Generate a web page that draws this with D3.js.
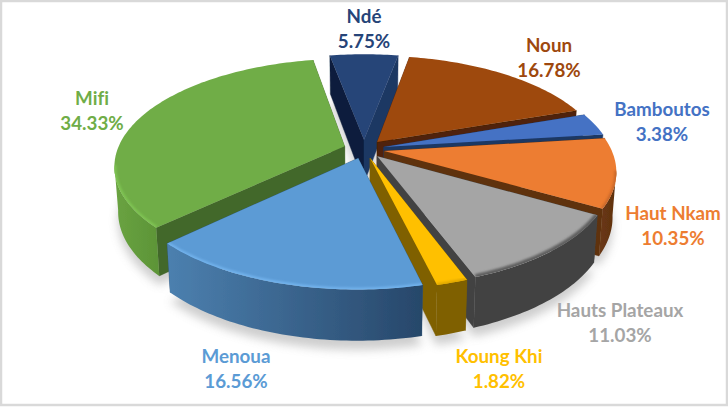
<!DOCTYPE html>
<html><head><meta charset="utf-8">
<style>html,body{margin:0;padding:0;background:#fff}svg{display:block}text{font-variant-ligatures:none}</style>
<script src="https://cdn.jsdelivr.net/npm/d3@7/dist/d3.min.js"></script></head>
<body><svg id="c" width="728" height="408"></svg>
<script>
const regions = ["Noun","Bamboutos","Haut Nkam","Hauts Plateaux","Koung Khi","Menoua","Mifi","Ndé"];
const shares = [16.78,3.38,10.35,11.03,1.82,16.56,34.33,5.75];
const topColors = ["#9e480e","#4472c4","#ed7d31","#a5a5a5","#ffc000","#5b9bd5","#70ad47","#264478"];
const labelColors = ["#9e480e","#4472c4","#ed7d31","#a5a5a5","#ffc000","#5b9bd5","#70ad47","#264478"];
const startWall = ["#4f2407","#1f3864","#5f3110","#434343","#7f6000","#2f5578","#43682b","#0e1f3d"];
const endWall = ["#4f2407","#1f3864","#5f3110","#434343","#7f6000","#2f5578","#43682b","#1f3864"];
const wallLeft = ["#5f3110","#1f3864","#6a3813","#434343","#7f6000","#4c80af","#6aa341","#1f3864"];
const wallRight = ["#4f2407","#1f3864","#5f3110","#434343","#7f6000","#27476a","#5c9437","#1f3864"];
const rimColors = ["#9e480e","#4472c4","#c9682a","#5f5f5f","#e0a800","#72b2ec","#7fc452","#264478"];
// Label layout: centre x, first baseline y
const labelX = [549,662,673,620,499,236,92,364];
const labelY = [52,116,220,317,363,363,105,23];
const drawOrder = [7,0,6,1,2,3,4,5];

const W=728,H=408,cx=364,cy=149,R0=227,S0=104,K=0.18,Kh=0.13,H0=44,EXP=0.09,ROT=10.35*Math.PI/180;
const svg=d3.select("#c");
const defs=svg.append("defs");
defs.append("filter").attr("id","sh").attr("x","-20%").attr("y","-20%").attr("width","140%").attr("height","140%")
  .append("feGaussianBlur").attr("stdDeviation",5);
defs.append("filter").attr("id","rim").attr("x","-20%").attr("y","-20%").attr("width","140%").attr("height","140%")
  .append("feGaussianBlur").attr("stdDeviation",0.9);
defs.append("filter").attr("id","soft").attr("x","-5%").attr("y","-5%").attr("width","110%").attr("height","110%")
  .append("feGaussianBlur").attr("stdDeviation",0.45);

const arcs=d3.pie().sort(null).startAngle(ROT).endAngle(ROT+2*Math.PI)(shares);
const xScale=d3.scaleLinear().domain([-1,1]).range([cx-R0,cx+R0]);
const yScale=d3.scaleLinear().domain([-1,1]).range([cy+S0,cy-S0]);
function proj(u,v,drop){
  const d=1+K*v;
  let x=xScale(u/d), y=yScale(v/d);
  if(drop){ y+=H0/(1+Kh*v); x=cx+(x-cx)*0.985; }
  return [x,y];
}
function slicePts(a){
  const mid=(a.startAngle+a.endAngle)/2, ox=EXP*Math.sin(mid), oy=EXP*Math.cos(mid);
  const P=(t,r)=>[ox+r*Math.sin(t),oy+r*Math.cos(t)];
  return {P,mid};
}
const line=d3.line();
function arcPts(P,t0,t1,drop){
  const n=Math.max(2,Math.ceil((t1-t0)/0.02)), pts=[];
  d3.range(n+1).forEach(i=>{const t=t0+(t1-t0)*i/n,p=P(t,1);pts.push(proj(p[0],p[1],drop));});
  return pts;
}
// soft shadow under the whole pie
const shadowG=svg.append("g").attr("filter","url(#sh)").attr("opacity",0.42).attr("transform","translate(0,9)");
arcs.forEach((a,i)=>{
  const {P}=slicePts(a);const c=P(0,0);
  shadowG.append("path").attr("fill","#8a8a8a")
   .attr("d",line([proj(c[0],c[1],true),...arcPts(P,a.startAngle,a.endAngle,true)])+"Z");
});
svg.append("rect").attr("x",1).attr("y",1).attr("width",W-2).attr("height",H-4).attr("fill","none").attr("stroke","#d9d9d9").attr("stroke-width",2.5);

drawOrder.forEach(i=>{
  const a=arcs[i],{P}=slicePts(a),g=svg.append("g").attr("filter","url(#soft)");
  const c=P(0,0),ct=proj(c[0],c[1],false),cb=proj(c[0],c[1],true);
  const wall=(t,col)=>{const p=P(t,1);
    g.append("path").attr("fill",col).attr("stroke",col).attr("stroke-width",.4)
     .attr("d",line([ct,proj(p[0],p[1],false),proj(p[0],p[1],true),cb])+"Z");};
  wall(a.startAngle,startWall[i]); wall(a.endAngle,endWall[i]);
  // outer wall, only where it faces the viewer
  const lo=Math.max(a.startAngle,Math.acos(-K)), hi=Math.min(a.endAngle,2*Math.PI-Math.acos(-K));
  if(hi>lo){
    const gid="w"+i, gr=defs.append("linearGradient").attr("id",gid);
    gr.append("stop").attr("offset",0).attr("stop-color",wallLeft[i]);
    gr.append("stop").attr("offset",1).attr("stop-color",wallRight[i]);
    const tp=arcPts(P,lo,hi,false),bp=arcPts(P,lo,hi,true).reverse();
    g.append("path").attr("fill",`url(#${gid})`).attr("d",line([...tp,...bp])+"Z");
  }
  // top face
  g.append("path").attr("fill",topColors[i])
    .attr("d",line([ct,...arcPts(P,a.startAngle,a.endAngle,false)])+"Z");
  if(hi>lo){
    const clip="cp"+i;
    defs.append("clipPath").attr("id",clip).append("path")
      .attr("d",line([ct,...arcPts(P,a.startAngle,a.endAngle,false)])+"Z");
    svg.append("g").attr("clip-path",`url(#${clip})`).append("path").attr("fill","none")
      .attr("stroke",rimColors[i]).attr("stroke-width",i===3?6:4).attr("filter","url(#rim)")
      .attr("d",line(arcPts(P,lo,hi,false)));
  }
});

const tg=svg.append("g").attr("font-family","Lato, 'Open Sans', sans-serif").attr("font-weight",700)
  .attr("font-size",18.8).attr("text-anchor","middle");
regions.forEach((r,i)=>{
  tg.append("text").attr("x",labelX[i]).attr("y",labelY[i]).attr("fill",labelColors[i]).text(r);
  tg.append("text").attr("x",labelX[i]).attr("y",labelY[i]+25).attr("fill",labelColors[i]).text(d3.format(".2f")(shares[i])+"%");
});
</script></body></html>
